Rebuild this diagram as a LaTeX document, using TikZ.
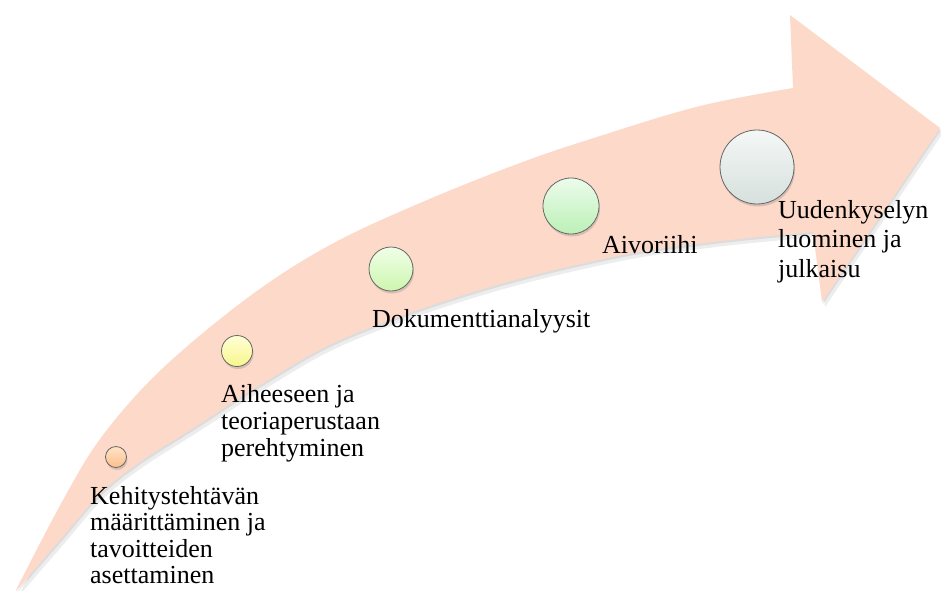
\documentclass[tikz,border=0pt]{standalone}
\usepackage{fontspec}
\setmainfont{Liberation Serif}
\usetikzlibrary{shadows}
\definecolor{arrowpeach}{RGB}{252,217,201}
\definecolor{c1top}{RGB}{255,228,200}
\definecolor{c1bot}{RGB}{253,190,140}
\definecolor{c2top}{RGB}{255,255,215}
\definecolor{c2bot}{RGB}{248,246,140}
\definecolor{c3top}{RGB}{240,255,232}
\definecolor{c3bot}{RGB}{205,246,175}
\definecolor{c4top}{RGB}{236,252,236}
\definecolor{c4bot}{RGB}{188,240,182}
\definecolor{c5top}{RGB}{244,247,246}
\definecolor{c5bot}{RGB}{214,224,221}
\begin{document}
\begin{tikzpicture}[x=1pt,y=-1pt,
  circ/.style={circle, draw=black!60, line width=0.8pt, inner sep=0pt,
    drop shadow={opacity=0.3, shadow xshift=1pt, shadow yshift=-2.5pt}},
  lbl/.style={anchor=north west, inner sep=0pt, align=left,
    font=\fontsize{26}{27}\selectfont}]
\useasboundingbox (0,0) rectangle (941,590);
\clip (0,0) rectangle (941,590);
\def\arrowpath{plot[smooth,tension=0.6] coordinates {(15,592) (63,500) (103,435) (163,368) (250,296) (330,245) (420,203) (520,163) (600,136) (700,106) (793,88)} -- (790,15) -- (940,128) -- (822,302) -- plot[smooth,tension=0.6] coordinates {(813,232) (713,242) (613,257) (480,290) (347,337) (265,382) (195,427) (140,462) (100,494) (60,540) (15,592)} -- cycle}
% shadow of the arrow
\fill[black, opacity=0.07, shift={(1,2)}] \arrowpath;
\fill[black, opacity=0.07, shift={(3,5)}] \arrowpath;
% arrow
\fill[arrowpeach] \arrowpath;
% circles
\node[circ, minimum size=21pt, top color=c1top, bottom color=c1bot] (c1) at (116,457) {};
\node[circ, minimum size=31pt, top color=c2top, bottom color=c2bot] (c2) at (237,351) {};
\node[circ, minimum size=44pt, top color=c3top, bottom color=c3bot] (c3) at (391,269) {};
\node[circ, minimum size=56pt, top color=c4top, bottom color=c4bot] (c4) at (571,206) {};
\node[circ, minimum size=74pt, top color=c5top, bottom color=c5bot] (c5) at (757,167) {};
% labels
\node[lbl, font=\fontsize{26}{26.5}\selectfont] (t1) at (90,486) {Kehitystehtävän\\määrittäminen ja\\tavoitteiden\\asettaminen};
\node[lbl] (t2) at (221,384) {Aiheeseen ja\\teoriaperustaan\\perehtyminen};
\node[lbl] (t3) at (372,309) {Dokumenttianalyysit};
\node[lbl] (t4) at (602,235) {Aivoriihi};
\node[lbl, font=\fontsize{26}{29.5}\selectfont] (t5) at (778,200) {Uudenkyselyn\\luominen ja\\julkaisu};
\end{tikzpicture}
\end{document}
